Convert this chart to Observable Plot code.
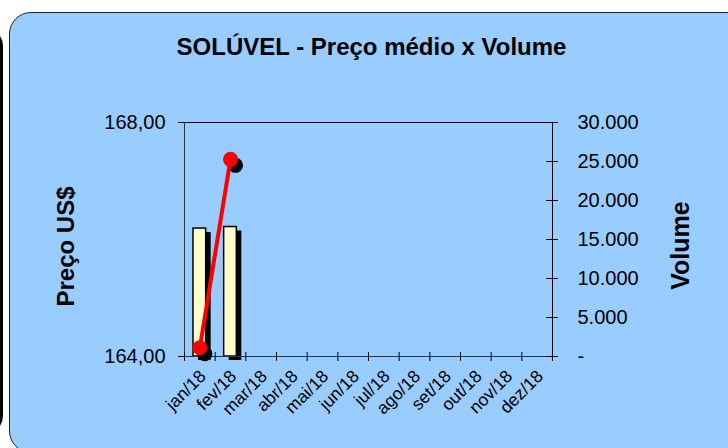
<!DOCTYPE html>
<html>
<head>
<meta charset="utf-8">
<script src="https://cdn.jsdelivr.net/npm/d3@7"></script>
<script src="https://cdn.jsdelivr.net/npm/@observablehq/plot@0.6"></script>
<style>
  body { margin: 0; background: #ffffff; font-family: "Liberation Sans", Arial, sans-serif; }
  #wrap { position: relative; width: 728px; height: 448px; overflow: hidden; background: #ffffff; }
  #strip { position: absolute; left: -30px; top: 28px; width: 33px; height: 406px; border: 3px solid #000; border-radius: 0 18px 18px 0; background: #99CCFF; box-sizing: border-box; }
  #panel { position: absolute; left: 9px; top: 12px; width: 740px; height: 441px; border: 1px solid #222; border-radius: 22px; background: #99CCFF; box-sizing: border-box; }
  #chart { position: absolute; left: 0; top: 0; }
</style>
</head>
<body>
<div id="wrap">
  <div id="strip"></div>
  <div id="panel"></div>
  <div id="chart"></div>
</div>
<script>
const months = ["jan/18","fev/18","mar/18","abr/18","mai/18","jun/18","jul/18","ago/18","set/18","out/18","nov/18","dez/18"];
const dataMonths = ["jan/18","fev/18"];
const price = [164.15, 167.37];
const volume = [16400, 16600];
const priceTicks = [164, 168];
const volumeTicks = [0, 5000, 10000, 15000, 20000, 25000, 30000];

const P0 = 164, P1 = 168, V1 = 30000;
const v2p = v => P0 + v / V1 * (P1 - P0);
const p2v = p => Math.round((p - P0) / (P1 - P0) * V1);

const W = 728, H = 448, mL = 184, mR = 176, mT = 122, mB = 92;
const fw = W - mL - mR, fh = H - mT - mB;
const bw = fw / months.length;

const data = dataMonths.map((m, i) => ({month: m, price: price[i], vol: volume[i]}));

const fmtVol = v => v === 0 ? "-" : d3.format(",")(v).replace(/,/g, ".");
const fmtPrice = p => p.toFixed(2).replace(".", ",");
const font = "Liberation Sans, Arial, sans-serif";

const chart = Plot.plot({
  width: W, height: H,
  marginLeft: mL, marginRight: mR, marginTop: mT, marginBottom: mB,
  style: {background: "transparent", fontFamily: font, color: "#000", overflow: "visible"},
  x: {type: "band", domain: months, padding: 0, round: false, axis: null},
  y: {domain: [P0, P1], axis: null},
  marks: [
    // bars: shadow then fill
    Plot.barY(data, {x: "month", y1: P0, y2: d => v2p(d.vol), fill: "#000", insetLeft: 9, insetRight: 9, dx: 5, dy: 4}),
    Plot.barY(data, {x: "month", y1: P0, y2: d => v2p(d.vol), fill: "#FFFFCC", stroke: "#000", strokeWidth: 1.5, insetLeft: 9, insetRight: 9}),
    // frame lines
    Plot.ruleY([P1], {stroke: "#000", strokeWidth: 1, insetLeft: -6, insetRight: -6}),
    Plot.ruleY([P0], {stroke: "#2a3340", strokeWidth: 1, insetLeft: -6, insetRight: 0}),
    Plot.ruleX([months[0]], {dx: -bw / 2, stroke: "#2a3340", strokeWidth: 1}),
    Plot.ruleX([months[months.length - 1]], {dx: bw / 2, stroke: "#000", strokeWidth: 1, insetBottom: -4}),
    // left ticks
    Plot.ruleY(priceTicks, {stroke: "#000", insetLeft: -6, insetRight: fw}),
    // right ticks
    Plot.ruleY(volumeTicks.map(v2p), {stroke: "#000", insetLeft: fw - 6, insetRight: -6}),
    // x ticks at band boundaries
    Plot.ruleX(months, {dx: -bw / 2, stroke: "#000", insetTop: fh - 4, insetBottom: -5}),
    Plot.ruleX([months[months.length - 1]], {dx: bw / 2, stroke: "#000", insetTop: fh - 4, insetBottom: -5}),
    // price line with marker shadows
    Plot.dot(data, {x: "month", y: "price", r: 7.5, fill: "#000", dx: 5, dy: 6}),
    Plot.line(data, {x: "month", y: "price", stroke: "#FF0000", strokeWidth: 4}),
    Plot.dot(data, {x: "month", y: "price", r: 7.5, fill: "#FF0000"}),
    // axes
    Plot.axisY(priceTicks, {anchor: "left", tickSize: 0, tickPadding: 19, tickFormat: fmtPrice, fontSize: 20, label: null}),
    Plot.axisY(volumeTicks.map(v2p), {anchor: "right", tickSize: 0, tickPadding: 25, tickFormat: p => fmtVol(p2v(p)), fontSize: 20, label: null}),
    Plot.axisX(months, {anchor: "bottom", tickSize: 0, tickPadding: 17, tickRotate: -45, fontSize: 17.5, label: null, dx: 3}),
    // titles
    Plot.text(["SOLÚVEL - Preço médio x Volume"], {frameAnchor: "top", lineAnchor: "middle", dx: 3, dy: -75, fontSize: 24, fontWeight: "bold"}),
    Plot.text(["Preço US$"], {frameAnchor: "left", textAnchor: "middle", dx: -118, dy: 7, rotate: -90, fontSize: 24, fontWeight: "bold"}),
    Plot.text(["Volume"], {frameAnchor: "right", textAnchor: "middle", dx: 128, dy: 6, rotate: -90, fontSize: 25, fontWeight: "bold"})
  ]
});
document.getElementById("chart").appendChild(chart);
</script>
</body>
</html>
